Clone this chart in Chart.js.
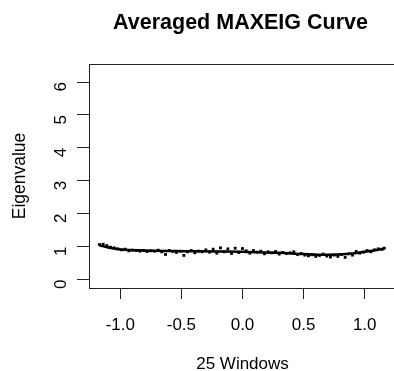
<!DOCTYPE html>
<html>
<head>
<meta charset="utf-8">
<script src="https://cdn.jsdelivr.net/npm/chart.js@4/dist/chart.umd.min.js"></script>
<style>
  html, body { margin: 0; padding: 0; background: #fff; overflow: hidden; }
  #wrap { width: 394px; height: 371px; overflow: hidden; }
</style>
</head>
<body>
<div id="wrap"><canvas id="eigChart" width="400" height="371"></canvas></div>
<script>
// averaged MAXEIG points (x = window position, y = eigenvalue)
const pointX = [-1.17,-1.14,-1.11,-1.08,-1.05,-1.02,-0.99,-0.96,-0.93,-0.90,-0.87,-0.84,-0.81,-0.78,-0.75,-0.72,-0.69,-0.66,-0.63,-0.60,
  -0.57,-0.54,-0.51,-0.48,-0.45,-0.42,-0.39,-0.36,-0.33,-0.30,-0.27,-0.24,-0.21,-0.18,-0.15,-0.12,-0.09,-0.06,-0.03,0.00,
  0.03,0.06,0.09,0.12,0.15,0.18,0.21,0.24,0.27,0.30,0.33,0.36,0.39,0.42,0.45,0.48,0.51,0.54,0.57,0.60,
  0.63,0.66,0.69,0.72,0.75,0.78,0.81,0.84,0.87,0.90,0.93,0.96,0.99,1.02,1.05,1.08,1.11,1.14,1.16];
const pointY = [1.06,1.07,1.03,0.98,0.96,0.93,0.90,0.92,0.87,0.89,0.88,0.86,0.88,0.85,0.87,0.86,0.89,0.84,0.76,0.88,
  0.85,0.82,0.86,0.73,0.84,0.88,0.81,0.86,0.84,0.90,0.83,0.92,0.80,0.96,0.84,0.93,0.79,0.95,0.82,0.94,
  0.87,0.80,0.88,0.83,0.86,0.78,0.84,0.81,0.85,0.77,0.82,0.79,0.81,0.84,0.76,0.79,0.74,0.72,0.75,0.70,
  0.73,0.77,0.71,0.68,0.74,0.70,0.76,0.67,0.78,0.74,0.85,0.80,0.83,0.88,0.84,0.90,0.93,0.92,0.95];

// smoothed curve
const curveX = [-1.17,-1.10,-1.00,-0.80,-0.50,-0.20,0.00,0.30,0.50,0.70,0.85,1.00,1.16];
const curveY = [1.04,0.97,0.91,0.88,0.86,0.85,0.84,0.81,0.77,0.75,0.77,0.84,0.93];

const yTicks = [0, 1, 2, 3, 4, 5, 6];

const font = 'Liberation Sans, Arial, sans-serif';
const titleText = 'Averaged MAXEIG Curve';

// box round the plot + title centred over the plot region
const boxPlugin = {
  id: 'box',
  afterDraw(chart) {
    const a = chart.chartArea, c = chart.ctx;
    c.save();
    c.strokeStyle = '#222';
    c.lineWidth = 1;
    c.strokeRect(a.left + 0.5, a.top + 0.5, a.right - a.left, a.bottom - a.top);
    c.fillStyle = '#000';
    c.font = 'bold 21.5px ' + font;
    c.textAlign = 'center';
    c.textBaseline = 'middle';
    c.fillText(titleText, (a.left + a.right) / 2 - 2, 23);
    c.restore();
  }
};

new Chart(document.getElementById('eigChart'), {
  type: 'scatter',
  data: {
    datasets: [
      {
        type: 'line',
        data: curveX.map((x, i) => ({ x, y: curveY[i] })),
        borderColor: '#000', borderWidth: 2.5, pointRadius: 0, tension: 0.4, fill: false
      },
      {
        data: pointX.map((x, i) => ({ x, y: pointY[i] })),
        backgroundColor: '#000', borderColor: '#000', pointRadius: 2, pointStyle: 'rect', borderWidth: 0
      }
    ]
  },
  options: {
    responsive: false, animation: false, devicePixelRatio: 1,
    layout: { padding: { left: 0, right: 1, top: 64, bottom: 0 } },
    plugins: {
      legend: { display: false }, tooltip: { enabled: false }, title: { display: false }
    },
    scales: {
      x: {
        type: 'linear', min: -1.256, max: 1.256,
        afterFit: s => { s.height = 83; },
        border: { display: false },
        grid: { drawOnChartArea: false, drawTicks: true, tickLength: 11, tickColor: '#222' },
        ticks: { stepSize: 0.5, includeBounds: false, color: '#000', padding: 16,
          font: { family: font, size: 17 }, maxRotation: 0, callback: v => v.toFixed(1) },
        title: { display: true, text: '25 Windows', color: '#000',
          font: { family: font, size: 17, lineHeight: 0.8 }, padding: 0 }
      },
      y: {
        type: 'linear', min: -0.26, max: 6.55,
        afterFit: s => { s.width = 89; },
        afterBuildTicks: s => { s.ticks = yTicks.map(v => ({ value: v })); },
        border: { display: false },
        grid: { drawOnChartArea: false, drawTicks: true, tickLength: 12, tickColor: '#222' },
        ticks: { color: '#000', padding: 16, minRotation: 90, maxRotation: 90,
          font: { family: font, size: 17 } },
        title: { display: true, text: 'Eigenvalue', color: '#000',
          font: { family: font, size: 17.5, lineHeight: 1.2 }, padding: { top: 10 } }
      }
    }
  },
  plugins: [boxPlugin]
});
</script>
</body>
</html>
